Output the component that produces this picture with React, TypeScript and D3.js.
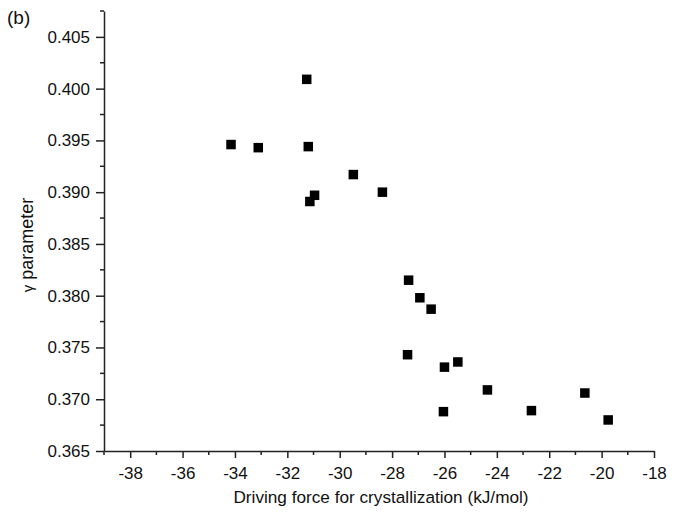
import React, { useEffect, useRef } from 'react';
import * as d3 from 'd3';

// driving force (kJ/mol) and gamma parameter
const drivingForce = [
  -34.15, -33.11, -31.26, -31.2, -31.14, -30.96, -29.48, -28.37,
  -27.37, -26.94, -26.51, -27.41, -26.0, -25.49, -26.04, -24.36,
  -22.68, -20.64, -19.75,
];
const gammaValues = [
  0.3946, 0.3943, 0.4009, 0.3944, 0.3891, 0.3897, 0.3917, 0.39,
  0.3815, 0.3798, 0.3787, 0.3743, 0.3731, 0.3736, 0.3688, 0.3709,
  0.3689, 0.3706, 0.368,
];
const xTicks = [-38, -36, -34, -32, -30, -28, -26, -24, -22, -20, -18];
const yTicks = [0.365, 0.37, 0.375, 0.38, 0.385, 0.39, 0.395, 0.4, 0.405];

const App = () => {
  const ref = useRef<SVGSVGElement | null>(null);

  useEffect(() => {
    const svg = d3.select(ref.current);
    svg.selectAll('*').remove();

    const width = 681;
    const height = 515;
    const margin = { top: 11, right: 27, bottom: 64, left: 104 };
    const font = 'Arial, "Liberation Sans", sans-serif';

    const x = d3.scaleLinear().domain([-39, -18]).range([margin.left, width - margin.right]);
    const y = d3.scaleLinear().domain([0.365, 0.4075]).range([height - margin.bottom, margin.top]);

    const xMinor = d3.range(-39, -18, 2);
    const yMinor = d3.range(0, 9).map(i => 0.3675 + i * 0.005);

    // x axis
    const gx = svg.append('g').attr('transform', `translate(0,${height - margin.bottom})`);
    gx.call(d3.axisBottom(x).tickValues(xTicks).tickFormat(d => String(d)).tickSize(7).tickSizeOuter(0));
    gx.selectAll('.minor')
      .data(xMinor)
      .enter().append('line')
      .attr('x1', d => x(d)).attr('x2', d => x(d))
      .attr('y1', 0).attr('y2', 4)
      .attr('stroke', '#222').attr('stroke-width', 1.5);

    // y axis
    const gy = svg.append('g').attr('transform', `translate(${margin.left},0)`);
    gy.call(d3.axisLeft(y).tickValues(yTicks).tickFormat(d3.format('.3f')).tickSize(8).tickSizeOuter(0));
    gy.selectAll('.minor')
      .data(yMinor)
      .enter().append('line')
      .attr('y1', d => y(d)).attr('y2', d => y(d))
      .attr('x1', 0).attr('x2', -4)
      .attr('stroke', '#222').attr('stroke-width', 1.5);

    svg.selectAll('g').attr('font-family', null).attr('font-size', null);
    svg.selectAll('.domain').attr('stroke', '#222').attr('stroke-width', 1.5);
    svg.selectAll('.tick line').attr('stroke', '#222').attr('stroke-width', 1.5);
    svg.selectAll('.tick text')
      .style('font-family', font)
      .style('font-size', '17px')
      .attr('fill', '#111');
    gx.selectAll('.tick text').attr('dy', '0.71em').attr('y', 16);
    gy.selectAll('.tick text').attr('x', -14);

    // points
    const size = 9.5;
    svg.append('g')
      .selectAll('rect')
      .data(drivingForce.map((d, i) => [d, gammaValues[i]]))
      .enter().append('rect')
      .attr('x', d => x(d[0]) - size / 2)
      .attr('y', d => y(d[1]) - size / 2)
      .attr('width', size)
      .attr('height', size)
      .attr('fill', '#000');

    // labels
    svg.append('text')
      .attr('x', 381).attr('y', 503)
      .attr('text-anchor', 'middle')
      .style('font-family', font).style('font-size', '17.2px').attr('fill', '#111')
      .text('Driving force for crystallization (kJ/mol)');

    const yl = svg.append('text')
      .attr('transform', 'translate(33,245) rotate(-90)')
      .attr('text-anchor', 'middle')
      .style('font-family', font).style('font-size', '18px').attr('fill', '#111');
    yl.append('tspan').style('font-size', '15px').text('γ');
    yl.append('tspan').text(' parameter');

    svg.append('text')
      .attr('x', 7).attr('y', 24)
      .style('font-family', font).style('font-size', '19px').attr('fill', '#111')
      .text('(b)');
  }, []);

  return (
    <svg ref={ref} width={681} height={515} style={{ position: 'absolute', left: 0, top: 0, background: '#fff' }} />
  );
};

export default App;
